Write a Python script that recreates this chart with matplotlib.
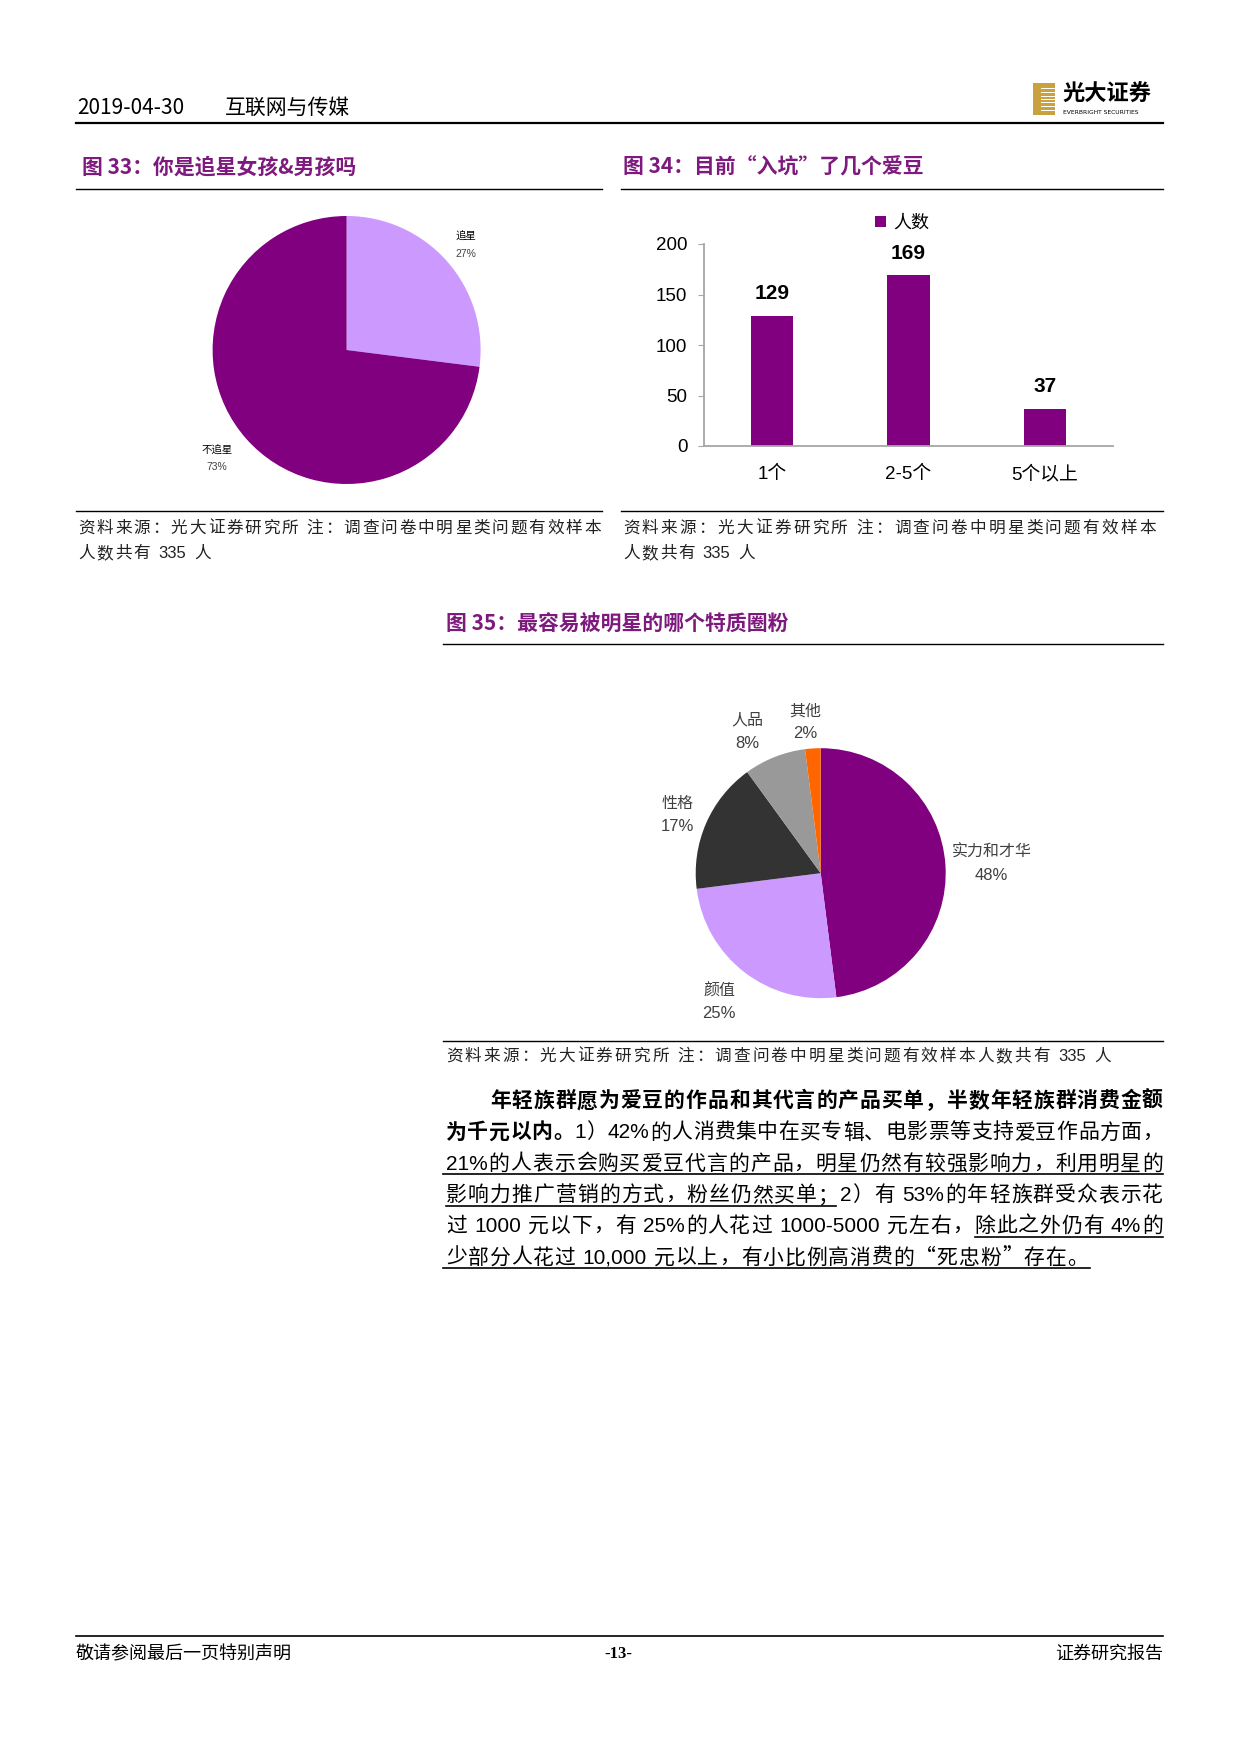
import re

import matplotlib
matplotlib.use('Agg')
from matplotlib import pyplot as plt
from matplotlib.lines import Line2D
from matplotlib.patches import Rectangle

LATIN = ['Liberation Sans', 'Noto Sans CJK SC', 'DejaVu Sans']
CJK = ['Noto Sans CJK SC', 'DejaVu Sans']
plt.rcParams['font.family'] = LATIN

W, H = 1240, 1754
PURPLE = '#800080'
LILAC = '#CC99FF'
TITLE_COLOR = '#7E1A7E'

# fig 33 - fans or not
fan_labels = ['追星', '不追星']
fan_share = [27, 73]
fan_colors = [LILAC, PURPLE]

# fig 34 - how many idols
idol_cats = ['1个', '2-5个', '5个以上']
idol_counts = [129, 169, 37]
idol_ticks = [0, 50, 100, 150, 200]

# fig 35 - which trait
trait_labels = ['实力和才华', '颜值', '性格', '人品', '其他']
trait_share = [48, 25, 17, 8, 2]
trait_colors = [PURPLE, LILAC, '#333333', '#999999', '#FF6600']

source_note = '资料来源：光大证券研究所 注：调查问卷中明星类问题有效样本'
source_tail = '人数共有 335 人'

paragraph = [
    [('年轻族群愿为爱豆的作品和其代言的产品买单，半数年轻族群消费金额', True)],
    [('为千元以内。', True), ('1）42%的人消费集中在买专辑、电影票等支持爱豆作品方面，', False)],
    [('21%的人表示会购买爱豆代言的产品，明星仍然有较强影响力，利用明星的', False)],
    [('影响力推广营销的方式，粉丝仍然买单；2）有 53%的年轻族群受众表示花', False)],
    [('过 1000 元以下，有 25%的人花过 1000-5000 元左右，除此之外仍有 4%的', False)],
    [('少部分人花过 10,000 元以上，有小比例高消费的“死忠粉”存在。', False)],
]

fig = plt.figure(figsize=(W / 100, H / 100), dpi=100)
fig.patch.set_facecolor('white')


def fx(x):
    return x / W


def fy(y):
    return 1 - y / H


def put(x, y, s, **kw):
    kw.setdefault('va', 'center')
    return fig.text(fx(x), fy(y), s, **kw)


def hline(x0, x1, y, lw=1.0, color='black'):
    fig.add_artist(Line2D([fx(x0), fx(x1)], [fy(y), fy(y)], lw=lw, color=color,
                          transform=fig.transFigure))


def px_axes(x0, y0, x1, y1):
    return fig.add_axes([fx(x0), fy(y1), (x1 - x0) / W, (y1 - y0) / H])


TOKEN = re.compile(r'[A-Za-z0-9%,.\-]+|\s|.')


def justify(parts, x0, x1, y, size, color='black'):
    # spread tokens of one line evenly between x0 and x1 (y = baseline)
    renderer = fig.canvas.get_renderer()
    items = []
    for s, bold in parts:
        for tok in TOKEN.findall(s):
            if tok == ' ':
                items.append((None, size * 0.25 * 100 / 72))
                continue
            fam = LATIN if tok.isascii() else CJK
            t = fig.text(0, fy(y), tok, fontsize=size, color=color, va='baseline', ha='left',
                         fontweight='bold' if bold else 'normal', family=fam)
            items.append((t, t.get_window_extent(renderer).width))
    total = sum(w for _, w in items)
    gap = (x1 - x0 - total) / (len(items) - 1)
    x = x0
    for t, w in items:
        if t is not None:
            t.set_x(fx(x))
        x += w + gap


# header
put(77, 108, '2019-04-30', fontsize=15, family=CJK)
put(225, 108, '互联网与传媒', fontsize=15, family=CJK)
hline(76, 1163, 123, lw=1.6)

# logo
fig.add_artist(Rectangle((fx(1033), fy(115)), 22 / W, 32 / H, transform=fig.transFigure,
                         facecolor='#C9A23F', edgecolor='none'))
for yy in [88, 92, 96, 99, 102, 106, 110]:
    fig.add_artist(Rectangle((fx(1041), fy(yy + 1)), 14 / W, 1.2 / H, transform=fig.transFigure,
                             facecolor='white', edgecolor='none'))
put(1062, 94, '光大证券', fontsize=16, fontweight='bold', family=CJK)
put(1063, 112, 'EVERBRIGHT SECURITIES', fontsize=4.3, family='DejaVu Sans')

# titles
title_kw = dict(fontsize=15, fontweight='bold', color=TITLE_COLOR, family=CJK)
put(82, 167, '图 33：你是追星女孩&男孩吗', **title_kw)
put(623, 167, '图 34：目前“入坑”了几个爱豆', **title_kw)
put(446, 623, '图 35：最容易被明星的哪个特质圈粉', **title_kw)
hline(76, 602, 189)
hline(621, 1163, 189)
hline(443, 1163, 644)

# fig 33 pie
cx, cy, r = 346.6, 350, 134
ax = px_axes(cx - r, cy - r, cx + r, cy + r)
ax.pie(fan_share, colors=fan_colors, startangle=90, counterclock=False, radius=1)
ax.set_xlim(-1, 1)
ax.set_ylim(-1, 1)
ax.axis('off')
put(466, 237, fan_labels[0], fontsize=7.5, ha='center', family=CJK)
put(466, 254, '%d%%' % fan_share[0], fontsize=7.5, ha='center', color='#404040')
put(217, 451, fan_labels[1], fontsize=7.5, ha='center', family=CJK)
put(217, 467, '%d%%' % fan_share[1], fontsize=7.5, ha='center', color='#404040')

# fig 34 bars
ax = px_axes(704, 244, 1113, 446)
xs = list(range(len(idol_counts)))
bars = ax.bar(xs, idol_counts, width=0.31, color=PURPLE, label='人数')
ax.set_xlim(-0.5, 2.5)
ax.set_ylim(0, 200)
ax.set_yticks(idol_ticks)
ax.set_xticks(xs)
ax.set_xticklabels(idol_cats)
ax.tick_params(axis='x', length=0, pad=14, labelsize=13.5)
ax.tick_params(axis='y', length=4, color='#A6A6A6', labelsize=13.5, pad=8)
for s in ['top', 'right']:
    ax.spines[s].set_visible(False)
for s in ['left', 'bottom']:
    ax.spines[s].set_color('#A6A6A6')
    ax.spines[s].set_linewidth(1.3)
ax.bar_label(bars, fontsize=15, fontweight='bold', padding=9)
ax.legend(loc='center', bbox_to_anchor=(fx(902), fy(223)), bbox_transform=fig.transFigure,
          frameon=False, prop={'family': CJK, 'size': 13}, handlelength=0.6, handleheight=0.6,
          handletextpad=0.4, borderpad=0)

# sources for 33 / 34
hline(76, 602, 511)
hline(621, 1163, 511)
justify([(source_note, False)], 78, 601, 533, 12, color='#222222')
justify([(source_tail, False)], 78, 211, 558, 12, color='#222222')
justify([(source_note, False)], 623, 1156, 533, 12, color='#222222')
justify([(source_tail, False)], 623, 755, 558, 12, color='#222222')

# fig 35 pie
cx, cy, r = 820.7, 873.2, 125
ax = px_axes(cx - r, cy - r, cx + r, cy + r)
ax.pie(trait_share, colors=trait_colors, startangle=90, counterclock=False, radius=1)
ax.set_xlim(-1, 1)
ax.set_ylim(-1, 1)
ax.axis('off')
label_pos = [(991.8, 852), (719, 990.6), (677.6, 803), (747, 720), (805, 711)]
for (lx, ly), name, v in zip(label_pos, trait_labels, trait_share):
    put(lx, ly, name, fontsize=11.5, ha='center', color='#404040', family=CJK)
    put(lx, ly + 23, '%d%%' % v, fontsize=12, ha='center', color='#404040')

hline(443, 1163, 1041)
justify([(source_note + source_tail, False)], 446, 1111, 1061, 12, color='#222222')

# paragraph
line_y = [1099, 1130.5, 1161.7, 1193, 1224, 1255.6]
for i, (parts, yc) in enumerate(zip(paragraph, line_y)):
    x0 = 490 if i == 0 else 446
    x1 = 1088 if i == len(paragraph) - 1 else 1163
    justify(parts, x0, x1, yc + 8, 15)

hline(443, 1163, 1174, lw=1.2)
hline(446, 836, 1205.5, lw=1.2)
hline(975, 1163, 1236.5, lw=1.2)
hline(443, 1090, 1268, lw=1.2)

# footer
hline(76, 1163, 1636, lw=1.2)
put(76, 1654, '敬请参阅最后一页特别声明', fontsize=13, family=CJK)
put(618, 1654, '-13-', fontsize=12, fontweight='bold', ha='center', family='Liberation Serif')
put(1163, 1654, '证券研究报告', fontsize=13, ha='right', family=CJK)

fig.savefig('out.png', dpi=100, facecolor='white')
